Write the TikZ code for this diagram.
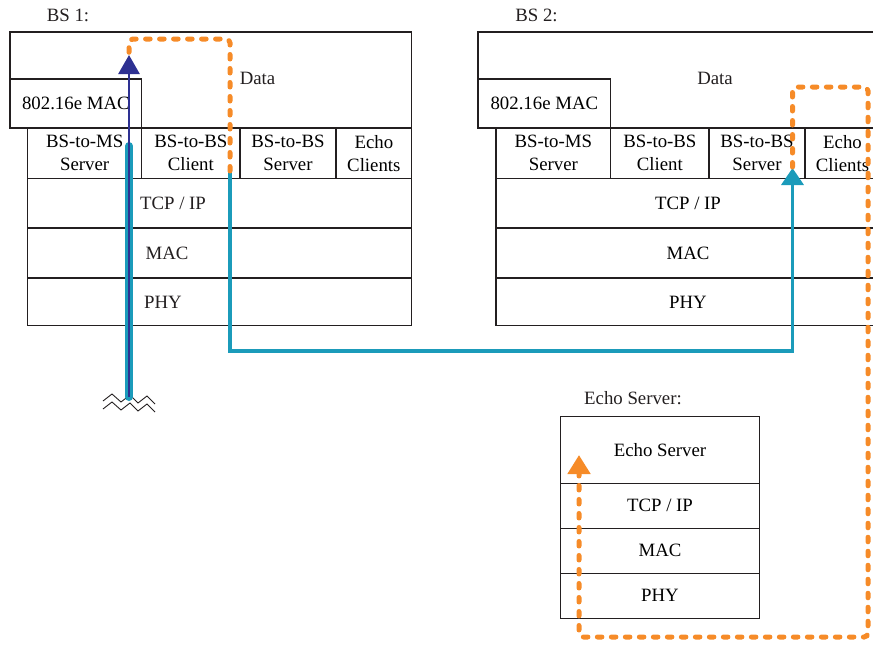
\documentclass[tikz,border=0pt]{standalone}
\usepackage{fontspec}
\setmainfont{Liberation Serif}
\usepackage{tikz}
\usetikzlibrary{arrows.meta, positioning, calc}

\definecolor{linkblue}{RGB}{27,155,186}
\definecolor{radionavy}{RGB}{46,49,146}
\definecolor{dataorange}{RGB}{246,139,40}
\definecolor{frame}{RGB}{35,31,32}

\begin{document}
\begin{tikzpicture}[
	x=1pt, y=-1pt,
	font=\fontsize{18.8}{23}\selectfont,
	layer/.style={draw=frame, line width=1.1pt, fill=white, align=center, inner sep=0pt},
	title/.style={inner sep=0pt, text=frame},
	txt/.style={inner sep=0pt, text=frame},
	link/.style={draw=linkblue, line width=3.5pt},
	radio/.style={draw=radionavy, line width=2.5pt, -{Triangle[width=21pt, length=19pt]}},
	data/.style={draw=dataorange, line width=5pt, line cap=round, dash pattern=on 4.5pt off 9.5pt, rounded corners=4pt}
]
\useasboundingbox (0,0) rectangle (873,645);
\clip (0,0) rectangle (873,645);

% BS 1 stack
\node[title] (bs1) at (68,15) {BS 1:};
\node[layer, minimum width=401.7pt, minimum height=96pt] (bs1data) at (210.85,80) {};
\node[txt] (bs1datatxt) at (257.5,78) {Data};
\node[layer, minimum width=131.7pt, minimum height=49pt] (bs1mac) at (75.85,103.5) {802.16e MAC};
\node[layer, minimum width=114pt, minimum height=50.5pt] (bs1ms) at (84.7,153.25) {BS-to-MS\\Server};
\node[layer, minimum width=98.3pt, minimum height=50.5pt] (bs1cli) at (190.85,153.25) {BS-to-BS\\Client};
\node[layer, minimum width=96pt, minimum height=50.5pt] (bs1srv) at (288,153.25) {BS-to-BS\\Server};
\node[layer, minimum width=75.7pt, minimum height=50.5pt] (bs1echo) at (373.85,153.25) {Echo\\Clients};
\node[layer, minimum width=384.2pt, minimum height=49.5pt] (bs1tcp) at (219.6,203.25) {};
\node[layer, minimum width=384.2pt, minimum height=50pt] (bs1link) at (219.6,253) {};
\node[layer, minimum width=384.2pt, minimum height=47.7pt] (bs1phy) at (219.6,301.85) {};
\node[txt] (bs1tcptxt) at (173,203) {TCP / IP};
\node[txt] (bs1linktxt) at (167,253) {MAC};
\node[txt] (bs1phytxt) at (163,302) {PHY};

% BS 2 stack
\node[title] (bs2) at (536.5,15) {BS 2:};
\node[layer, minimum width=402pt, minimum height=96pt] (bs2data) at (679,80) {};
\node[txt] (bs2datatxt) at (715,78) {Data};
\node[layer, minimum width=132.7pt, minimum height=49pt] (bs2mac) at (544.35,103.5) {802.16e MAC};
\node[layer, minimum width=114.7pt, minimum height=50.5pt] (bs2ms) at (553.35,153.25) {BS-to-MS\\Server};
\node[layer, minimum width=98.3pt, minimum height=50.5pt] (bs2cli) at (659.85,153.25) {BS-to-BS\\Client};
\node[layer, minimum width=96pt, minimum height=50.5pt] (bs2srv) at (757,153.25) {BS-to-BS\\Server};
\node[layer, minimum width=75pt, minimum height=50.5pt] (bs2echo) at (842.5,153.25) {Echo\\Clients};
\node[layer, minimum width=384pt, minimum height=49.5pt] (bs2tcp) at (688,203.25) {TCP / IP};
\node[layer, minimum width=384pt, minimum height=50pt] (bs2link) at (688,253) {MAC};
\node[layer, minimum width=384pt, minimum height=47.7pt] (bs2phy) at (688,301.85) {PHY};

% Echo server stack
\node[title] (es) at (633,398) {Echo Server:};
\node[layer, minimum width=198.6pt, minimum height=66.6pt] (esapp) at (660,450) {Echo Server};
\node[layer, minimum width=198.6pt, minimum height=45pt] (estcp) at (660,505.8) {TCP / IP};
\node[layer, minimum width=198.6pt, minimum height=45pt] (esmac) at (660,550.8) {MAC};
\node[layer, minimum width=198.6pt, minimum height=45pt] (esphy) at (660,595.8) {PHY};

% Route corners
\coordinate (air) at (129,397);
\coordinate (radiotop) at (129,55);
\coordinate (clifoot) at (230,171);
\coordinate (srvfoot) at (792.5,168);
\coordinate (datatop) at (129,39);
\coordinate (echoin) at (579,455);

% Antenna
\draw[frame, line width=0.9pt] (103,401) -- (112,394) -- (121,402) -- (130,395) -- (138,403) -- (147,396) -- (155,404);
\draw[frame, line width=0.9pt] (103,409) -- (112,402) -- (121,410) -- (130,403) -- (138,411) -- (147,404) -- (155,412);

% Edges
\draw[linkblue, line width=8pt, line cap=round] (129,146) -- (air);
\draw[radio] (air) -- (radiotop);
\draw[link, -{Triangle[width=22pt, length=17pt]}] (clifoot) -- (clifoot |- 0,351) -- (srvfoot |- 0,351) -- (srvfoot);
\draw[data] (clifoot) -- (clifoot |- datatop) -- (datatop) -- ($(radiotop)+(0,-2)$);
\draw[data, -{Triangle[width=22pt, length=19pt]}] ($(srvfoot)+(0,-1)$) -- (792.5,87) -- (868,87) -- (868,637) -- (echoin |- 0,637) -- (echoin);

\end{tikzpicture}
\end{document}
